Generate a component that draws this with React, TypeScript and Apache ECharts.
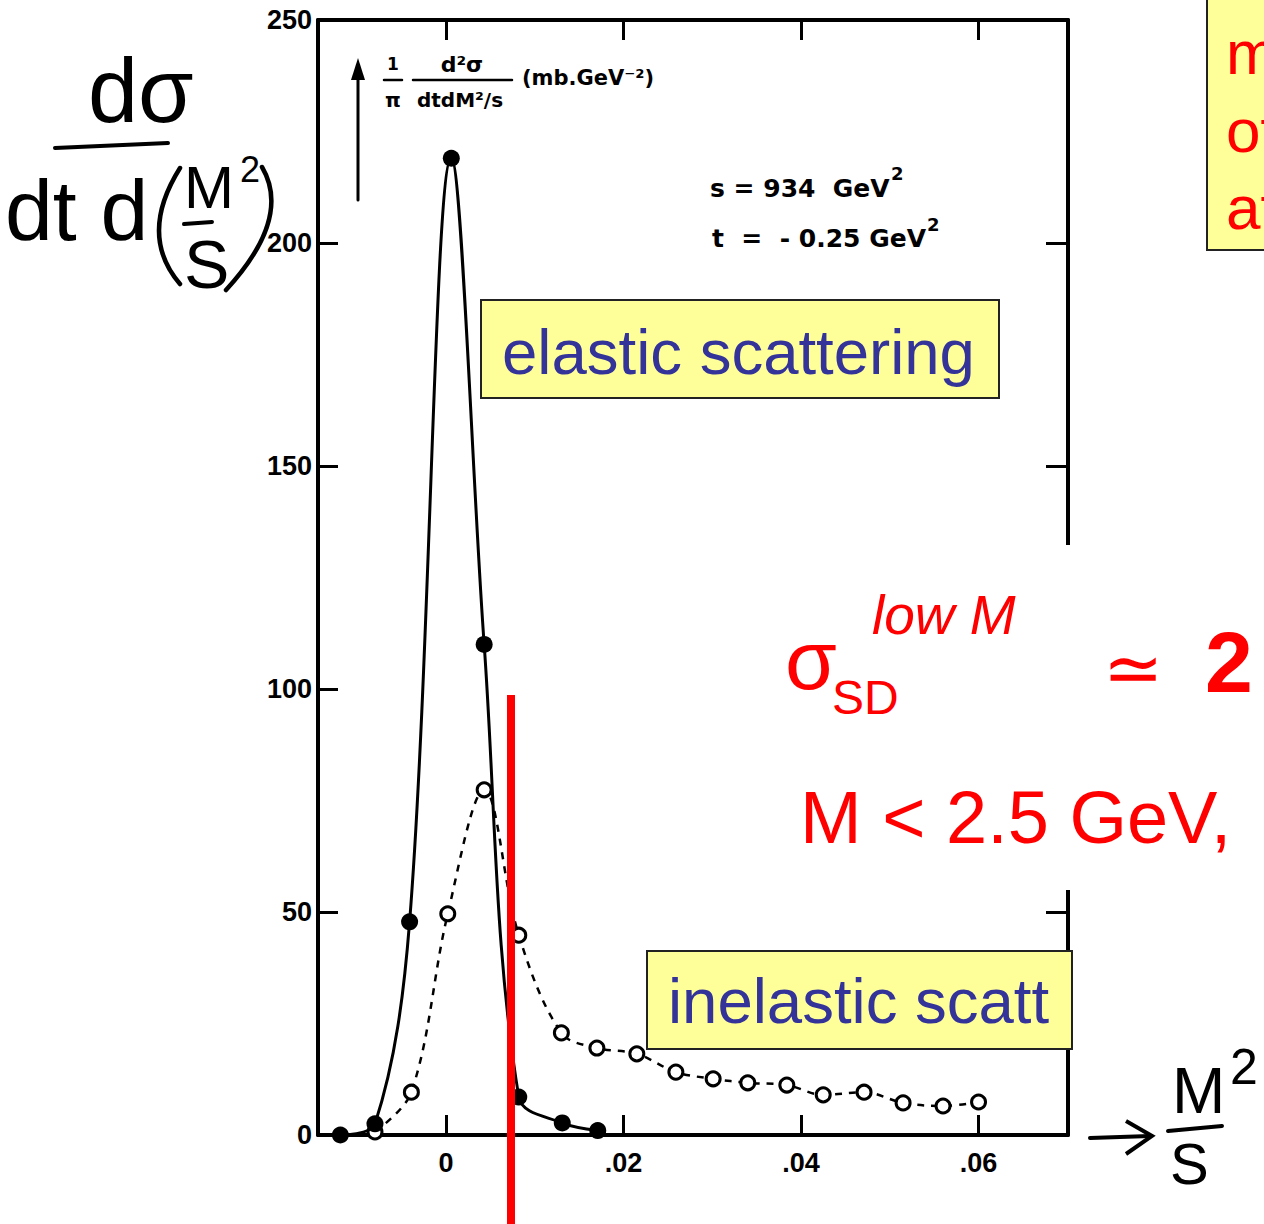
import React, { useEffect, useRef } from "react";
import * as echarts from "echarts";

// ---- data ----
const xTickValues = [0, 0.02, 0.04, 0.06];
const xTickLabels = ["0", ".02", ".04", ".06"];
const yTickValues = [0, 50, 100, 150, 200, 250];

const elasticX = [-0.0119, -0.008, -0.0041, 0.0006, 0.0043, 0.0082, 0.0131, 0.0171];
const elasticY = [0, 2.5, 47.8, 219, 110, 8.5, 2.7, 1.0];

const inelasticX = [-0.008, -0.0039, 0.0002, 0.0043, 0.0082, 0.013, 0.017, 0.0215, 0.0259, 0.0301, 0.034, 0.0384, 0.0425, 0.0471, 0.0515, 0.056, 0.06];
const inelasticY = [0.7, 9.6, 49.6, 77.4, 44.8, 22.9, 19.5, 18.2, 14.1, 12.6, 11.7, 11.2, 9.0, 9.6, 7.2, 6.5, 7.4];

const X_MIN = -0.01442;
const X_MAX = 0.07008;

const HAND = "'Liberation Sans', Arial, sans-serif";
const PRINT = "'DejaVu Sans', sans-serif";

function txt(text: string, x: number, y: number, font: string, fill: string, align = "left", valign = "middle", extra: any = {}) {
  return {
    type: "text",
    x,
    y,
    z: 100,
    ...extra,
    style: { text, font, fill, textAlign: align, textVerticalAlign: valign, align, verticalAlign: valign },
  };
}
function ln(x1: number, y1: number, x2: number, y2: number, w: number, color = "#000") {
  return { type: "line", z: 100, shape: { x1, y1, x2, y2 }, style: { stroke: color, lineWidth: w, lineCap: "round" } };
}
function curve(x1: number, y1: number, cpx1: number, cpy1: number, x2: number, y2: number, w: number, color = "#000") {
  return { type: "bezierCurve", z: 100, shape: { x1, y1, cpx1, cpy1, x2, y2 }, style: { stroke: color, lineWidth: w, fill: null, lineCap: "round" } };
}

export default function App() {
  const ref = useRef<HTMLDivElement>(null);
  useEffect(() => {
    document.body.style.margin = "0";
    if (!ref.current) return;
    const chart = echarts.init(ref.current, undefined, { renderer: "svg" });
    const axisLine = { show: true, onZero: false, lineStyle: { color: "#000", width: 4 } };
    const labelFont = { color: "#000", fontSize: 27, fontWeight: "bold", fontFamily: "'Liberation Sans', Arial, sans-serif" };
    const option: any = {
      animation: false,
      backgroundColor: "#fff",
      grid: { left: 318, right: 196, top: 20, bottom: 89 },
      xAxis: [
        {
          type: "value",
          position: "bottom",
          min: X_MIN,
          max: X_MAX,
          axisLine,
          splitLine: { show: false },
          axisTick: { show: true, inside: true, length: 20, lineStyle: { width: 3, color: "#000" }, customValues: xTickValues },
          axisLabel: {
            show: true,
            customValues: xTickValues,
            formatter: (v: number) => {
              const i = xTickValues.findIndex((t) => Math.abs(t - v) < 1e-9);
              return i >= 0 ? xTickLabels[i] : "";
            },
            ...labelFont,
            margin: 14,
          },
        },
        {
          type: "value",
          position: "top",
          min: X_MIN,
          max: X_MAX,
          axisLine,
          splitLine: { show: false },
          axisTick: { show: true, inside: true, length: 20, lineStyle: { width: 3, color: "#000" }, customValues: xTickValues },
          axisLabel: { show: false },
        },
      ],
      yAxis: [
        {
          type: "value",
          position: "left",
          min: 0,
          max: 250,
          interval: 50,
          axisLine,
          splitLine: { show: false },
          axisTick: { show: true, inside: true, length: 20, lineStyle: { width: 3, color: "#000" } },
          axisLabel: {
            show: true,
            ...labelFont,
            margin: 6,
            formatter: (v: number) => (yTickValues.includes(v) ? String(v) : ""),
          },
        },
        {
          type: "value",
          position: "right",
          min: 0,
          max: 250,
          interval: 50,
          axisLine,
          splitLine: { show: false },
          axisTick: { show: true, inside: true, length: 22, lineStyle: { width: 3, color: "#000" } },
          axisLabel: { show: false },
        },
      ],
      series: [
        {
          name: "inelastic",
          type: "line",
          xAxisIndex: 0,
          yAxisIndex: 0,
          data: inelasticX.map((x, i) => [x, inelasticY[i]]),
          smooth: 0.35,
          symbol: "circle",
          symbolSize: 14,
          itemStyle: { color: "#fff", borderColor: "#000", borderWidth: 3 },
          lineStyle: { color: "#000", width: 2.5, type: [7, 7] },
          z: 3,
        },
        {
          name: "elastic",
          type: "line",
          xAxisIndex: 0,
          yAxisIndex: 0,
          data: elasticX.map((x, i) => [x, elasticY[i]]),
          smooth: 0.35,
          symbol: "circle",
          symbolSize: 17,
          itemStyle: { color: "#000" },
          lineStyle: { color: "#000", width: 3 },
          z: 4,
        },
      ],
      graphic: [
        // cover of the right border (scan artifact)
        { type: "rect", z: 90, shape: { x: 1040, y: 545, width: 60, height: 345 }, style: { fill: "#fff" } },
        // original y-axis caption with arrow
        ln(358, 200, 358, 74, 3),
        { type: "polygon", z: 100, shape: { points: [[351, 80], [365, 80], [358, 58]] }, style: { fill: "#000" } },
        txt("1", 393, 64, "bold 17px " + PRINT, "#000", "center"),
        ln(384, 80, 402, 80, 2.5),
        txt("π", 393, 100, "bold 20px " + PRINT, "#000", "center"),
        txt("d²σ", 462, 64, "bold 22px " + PRINT, "#000", "center"),
        ln(413, 80, 512, 80, 2.5),
        txt("dtdM²/s", 460, 100, "bold 20px " + PRINT, "#000", "center"),
        txt("(mb.GeV⁻²)", 522, 78, "bold 21px " + PRINT, "#000", "left"),
        // parameters
        txt("s = 934  GeV", 710, 188, "bold 25px " + PRINT, "#000", "left"),
        txt("2", 891, 173, "bold 18px " + PRINT, "#000", "left"),
        txt("t  =  - 0.25 GeV", 712, 238, "bold 25px " + PRINT, "#000", "left"),
        txt("2", 927, 224, "bold 18px " + PRINT, "#000", "left"),
        // yellow boxes
        { type: "rect", z: 95, shape: { x: 481, y: 300, width: 518, height: 98 }, style: { fill: "#ffff99", stroke: "#222", lineWidth: 2 } },
        txt("elastic scattering", 502, 352, "63.5px " + HAND, "#333399", "left"),
        { type: "rect", z: 95, shape: { x: 647, y: 951, width: 425, height: 98 }, style: { fill: "#ffff99", stroke: "#222", lineWidth: 2 } },
        txt("inelastic scatt", 668, 1001, "63.5px " + HAND, "#333399", "left"),
        { type: "rect", z: 95, shape: { x: 1207, y: -5, width: 80, height: 255 }, style: { fill: "#ffff99", stroke: "#222", lineWidth: 2 } },
        txt("m", 1226, 52, "62px " + HAND, "#ff0000", "left"),
        txt("of", 1226, 130, "62px " + HAND, "#ff0000", "left"),
        txt("at", 1226, 207, "62px " + HAND, "#ff0000", "left"),
        // handwritten y caption
        txt("dσ", 88, 91, "90px " + HAND, "#000", "left"),
        ln(55, 148, 168, 143, 4),
        txt("dt d", 5, 210, "86px " + HAND, "#000", "left"),
        curve(180, 168, 138, 235, 180, 284, 4.5),
        txt("M", 184, 187, "60px " + HAND, "#000", "left"),
        txt("2", 240, 169, "36px " + HAND, "#000", "left"),
        ln(184, 224, 212, 222, 4),
        txt("S", 184, 264, "68px " + HAND, "#000", "left"),
        curve(262, 167, 292, 218, 226, 290, 4.5),
        // handwritten x caption
        ln(1090, 1138, 1150, 1136, 4),
        { type: "polyline", z: 100, shape: { points: [[1126, 1121], [1152, 1136], [1126, 1154]] }, style: { stroke: "#000", lineWidth: 4, fill: null } },
        txt("M", 1172, 1091, "64px " + HAND, "#000", "left"),
        txt("2", 1230, 1067, "50px " + HAND, "#000", "left"),
        ln(1168, 1131, 1222, 1126, 4),
        txt("S", 1170, 1163, "58px " + HAND, "#000", "left"),
        // red handwritten notes
        txt("σ", 785, 660, "84px " + HAND, "#ff0000", "left"),
        txt("low M", 872, 615, "italic 55px " + HAND, "#ff0000", "left"),
        txt("SD", 832, 697, "48px " + HAND, "#ff0000", "left"),
        txt("≃", 1133, 668, "72px " + HAND, "#ff0000", "center"),
        txt("2", 1205, 662, "bold 86px " + HAND, "#ff0000", "left"),
        txt("M < 2.5 GeV,", 800, 817, "74px " + HAND, "#ff0000", "left"),
        // red vertical line
        { type: "rect", z: 110, shape: { x: 507, y: 695, width: 8, height: 529 }, style: { fill: "#ff0000" } },
      ],
    };
    chart.setOption(option);
    return () => chart.dispose();
  }, []);
  return <div ref={ref} style={{ width: 1264, height: 1224 }} />;
}
